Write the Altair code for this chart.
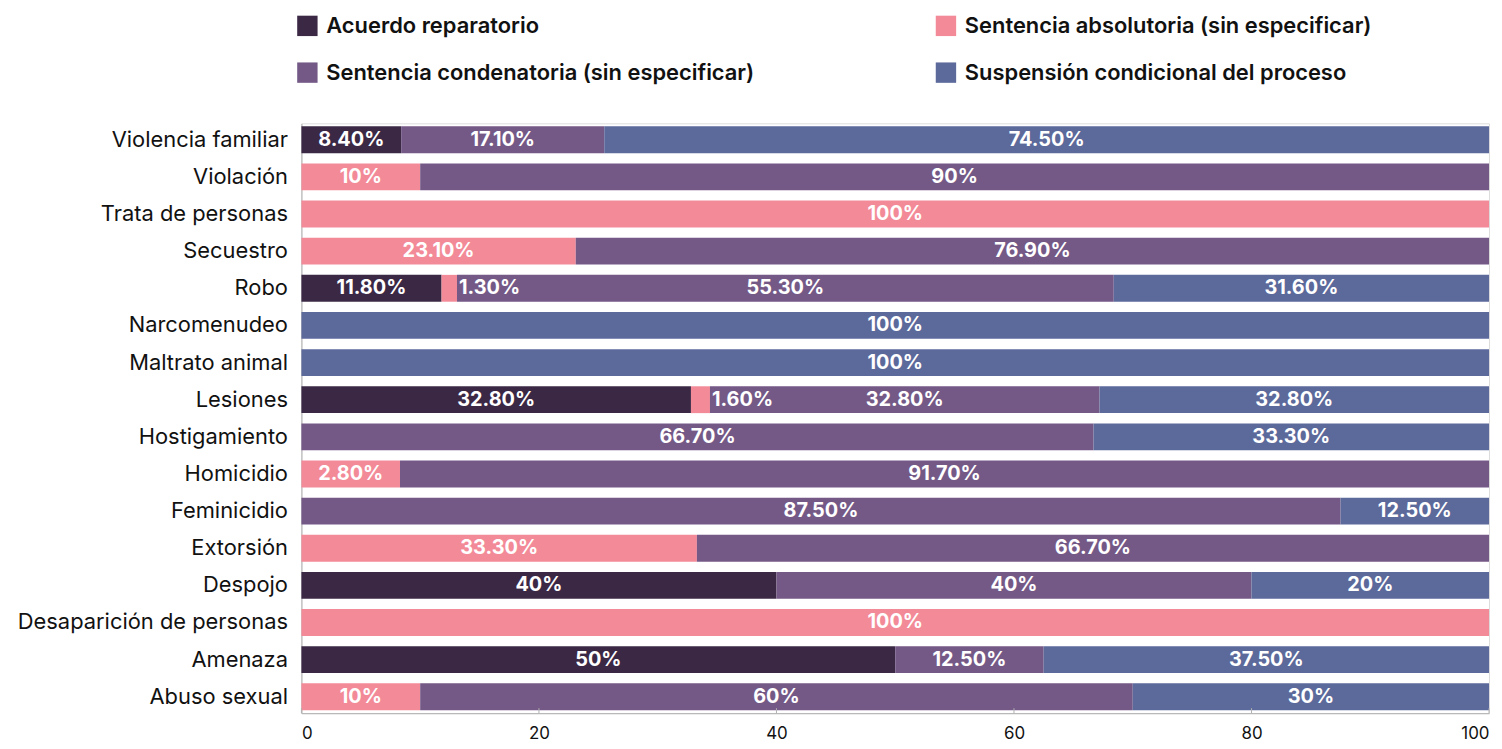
import altair as alt
import pandas as pd

categories = ["Violencia familiar", "Violación", "Trata de personas", "Secuestro", "Robo",
              "Narcomenudeo", "Maltrato animal", "Lesiones", "Hostigamiento", "Homicidio",
              "Feminicidio", "Extorsión", "Despojo", "Desaparición de personas", "Amenaza",
              "Abuso sexual"]
series = ["Acuerdo reparatorio", "Sentencia absolutoria (sin especificar)",
          "Sentencia condenatoria (sin especificar)", "Suspensión condicional del proceso"]
acuerdo = [8.4, 0, 0, 0, 11.8, 0, 0, 32.8, 0, 0, 0, 0, 40, 0, 50, 0]
absolutoria = [0, 10, 100, 23.1, 1.3, 0, 0, 1.6, 0, 8.3, 0, 33.3, 0, 100, 0, 10]
condenatoria = [17.1, 90, 0, 76.9, 55.3, 0, 0, 32.8, 66.7, 91.7, 87.5, 66.7, 40, 0, 12.5, 60]
suspension = [74.5, 0, 0, 0, 31.6, 100, 100, 32.8, 33.3, 0, 12.5, 0, 20, 0, 37.5, 30]
label_overrides = {("Homicidio", 1): "2.80%"}
colors = ["#3b2845", "#f38a98", "#745987", "#5c699b"]
tick_values = [0, 20, 40, 60, 80, 100]

FONT = "Inter"

def fmt(v):
    if abs(v - round(v)) < 1e-9:
        return f"{int(round(v))}%"
    return f"{v:.2f}%"

rows = []
all_series = [acuerdo, absolutoria, condenatoria, suspension]
for i, cat in enumerate(categories):
    start = 0.0
    for j, vals in enumerate(all_series):
        v = vals[i]
        if v <= 0:
            continue
        end = start + v
        rows.append({
            "cat": cat, "serie": series[j], "order": j,
            "start": start, "end": end, "mid": (start + end) / 2,
            "label": label_overrides.get((cat, j), fmt(v)),
            "narrow": v < 5,
        })
        start = end
df = pd.DataFrame(rows)

W, H = 1194, 593

y_enc = alt.Y("cat:N", sort=categories,
              scale=alt.Scale(paddingInner=0.277, paddingOuter=0.08),
              axis=alt.Axis(title=None, labelFontSize=22, labelFont=FONT, labelColor="#111",
                            labelPadding=14, labelLimit=400, ticks=False,
                            domainColor="#b0b0b0"))
x_axis = alt.Axis(values=tick_values, title=None, grid=False, ticks=False, labelFontSize=17,
                  labelFont=FONT, labelColor="#111", labelPadding=12, domainColor="#b0b0b0",
                  format="d")
x_scale = alt.Scale(domain=[0, 100], nice=False)

bars = alt.Chart(df).mark_bar().encode(
    y=y_enc,
    x=alt.X("start:Q", scale=x_scale, axis=x_axis),
    x2="end:Q",
    color=alt.Color("serie:N", sort=series,
                    scale=alt.Scale(domain=series, range=colors),
                    legend=alt.Legend(title=None, orient="none", legendX=-5, legendY=-109,
                                      columns=2, direction="horizontal",
                                      symbolType="square", symbolSize=420,
                                      symbolStrokeWidth=0, symbolOpacity=1,
                                      labelFontSize=22, labelFont=FONT, labelFontWeight=600,
                                      labelColor="#111", labelOffset=8, labelLimit=700,
                                      rowPadding=25, columnPadding=181)),
    order=alt.Order("order:Q"),
)

text_wide = alt.Chart(df).transform_filter("!datum.narrow").mark_text(
    color="white", fontWeight="bold", fontSize=20, font=FONT, align="center", baseline="middle"
).encode(y=alt.Y("cat:N", sort=categories), x=alt.X("mid:Q", scale=x_scale, axis=x_axis),
         text="label:N")

text_narrow = alt.Chart(df).transform_filter("datum.narrow").mark_text(
    color="white", fontWeight="bold", fontSize=20, font=FONT, align="left", baseline="middle", dx=2
).encode(y=alt.Y("cat:N", sort=categories), x=alt.X("end:Q", scale=x_scale, axis=x_axis),
         text="label:N")

ticks = alt.Chart(pd.DataFrame({"tick": tick_values})).mark_rule(
    color="#b0b0b0", strokeWidth=1
).encode(x=alt.X("tick:Q", scale=x_scale, axis=x_axis), y=alt.value(H - 5), y2=alt.value(H))

chart = alt.layer(bars, text_wide, text_narrow, ticks).properties(
    width=W, height=H,
    autosize=alt.AutoSizeParams(type="none"),
    padding={"left": 295, "top": 114, "right": 5, "bottom": 27},
).configure_view(stroke=None).configure(background="white")

chart.save("out.html", embed_options={"renderer": "svg", "actions": False})
